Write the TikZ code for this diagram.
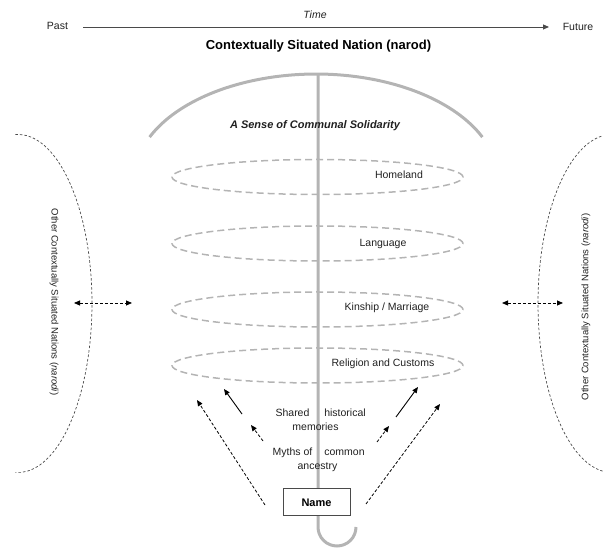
\documentclass[tikz,border=0pt]{standalone}
\usepackage{fontspec}
\setmainfont{Liberation Sans}
\usetikzlibrary{arrows.meta}
\definecolor{lg}{HTML}{B4B4B4}
\definecolor{dg}{HTML}{4A4A4A}
\definecolor{tx}{HTML}{202020}
\begin{document}
\begin{tikzpicture}[x=1pt,y=1pt,
  lbl/.style={inner sep=0pt, text=tx, font=\fontsize{10.5}{12}\selectfont},
  sidelbl/.style={inner sep=0pt, text=tx, font=\fontsize{9.5}{11}\selectfont},
  graybar/.style={draw=lg, line width=3pt},
  ring/.style={draw=lg, line width=1.5pt, dash pattern=on 7pt off 4pt},
  sidecurve/.style={draw=dg, line width=0.7pt, dash pattern=on 2.5pt off 2pt},
  tip/.tip={Triangle[length=6pt,width=5pt]},
  solidarrow/.style={draw=black, line width=0.9pt, -tip},
  dasharrow/.style={draw=black, line width=0.8pt, dash pattern=on 3pt off 2pt, -tip},
  dbldash/.style={draw=black, line width=0.8pt, dash pattern=on 3pt off 2pt, tip-tip},
  namebox/.style={draw=dg, fill=white, line width=1pt, minimum width=67pt, minimum height=27pt, inner sep=0pt, font=\bfseries\fontsize{11}{13}\selectfont}
]
\useasboundingbox (0,0) rectangle (603,552);
\clip (0,0) rectangle (603,552);

% time axis
\node[lbl] (past) at (57.5,526) {Past};
\node[lbl] (future) at (578,525) {Future};
\node[lbl, font=\itshape\fontsize{10.5}{12}\selectfont] (time) at (315,537) {Time};
\coordinate (tA) at (83,525);
\coordinate (tB) at (549,525);
\draw[draw=dg, line width=0.9pt, -tip] (tA) -- (tB);

% title
\node[inner sep=0pt, font=\bfseries\fontsize{13}{15}\selectfont] (title) at (318.5,506) {Contextually Situated Nation (narod)};

% umbrella arc and stem
\draw[graybar] (149.6,414.9) arc[start angle=156.1, end angle=23.9, x radius=182, y radius=106];
\draw[graybar] (318,478) -- (318,25) arc[start angle=180, end angle=360, radius=19];

% rings
\draw[ring] (317.5,375) ellipse[x radius=145.5, y radius=17.5];
\draw[ring] (317.5,308.5) ellipse[x radius=145.5, y radius=17.5];
\draw[ring] (317.5,242.5) ellipse[x radius=145.5, y radius=17.5];
\draw[ring] (317.5,186.5) ellipse[x radius=145.5, y radius=17.5];

\node[inner sep=0pt, text=tx, font=\bfseries\itshape\fontsize{11}{13}\selectfont] (solid) at (315,426) {A Sense of Communal Solidarity};
\node[lbl] (home) at (399,377) {Homeland};
\node[lbl] (lang) at (383,308) {Language};
\node[lbl] (kin) at (387,244) {Kinship / Marriage};
\node[lbl] (rel) at (383,188) {Religion and Customs};

\node[lbl] (shared) at (292.5,139) {Shared};
\node[lbl] (hist) at (345,139) {historical};
\node[lbl] (mem) at (315.5,125) {memories};
\node[lbl] (myths) at (292.5,99) {Myths of};
\node[lbl] (common) at (344.5,99) {common};
\node[lbl] (anc) at (317.5,85) {ancestry};

\node[namebox] (name) at (316.5,49.5) {Name};

% inner arrows
\coordinate (ls1) at (242,138); \coordinate (ls2) at (224,163);
\coordinate (ld1) at (263,111); \coordinate (ld2) at (251,127);
\coordinate (ll1) at (265,47);  \coordinate (ll2) at (197,152);
\coordinate (rs1) at (396,135); \coordinate (rs2) at (418,165);
\coordinate (rd1) at (377,110); \coordinate (rd2) at (389,126);
\coordinate (rl1) at (366,48);  \coordinate (rl2) at (440,148);
\draw[solidarrow] (ls1) -- (ls2);
\draw[dasharrow] (ld1) -- (ld2);
\draw[dasharrow] (ll1) -- (ll2);
\draw[solidarrow] (rs1) -- (rs2);
\draw[dasharrow] (rd1) -- (rd2);
\draw[dasharrow] (rl1) -- (rl2);

% side nations
\draw[sidecurve] (15.4,417.4) arc[start angle=92, end angle=-92, x radius=74, y radius=169];
\draw[sidecurve] (614.6,417.4) arc[start angle=88, end angle=272, x radius=74, y radius=169];
\node[sidelbl, rotate=-90] (othL) at (54,250) {Other Contextually Situated Nations (\textit{narodi})};
\node[sidelbl, rotate=90] (othR) at (586,245) {Other Contextually Situated Nations (\textit{narodi})};
\coordinate (la) at (74,249); \coordinate (lb) at (132,249);
\coordinate (ra) at (502,249); \coordinate (rb) at (563,249);
\draw[dbldash] (la) -- (lb);
\draw[dbldash] (ra) -- (rb);
\end{tikzpicture}
\end{document}
